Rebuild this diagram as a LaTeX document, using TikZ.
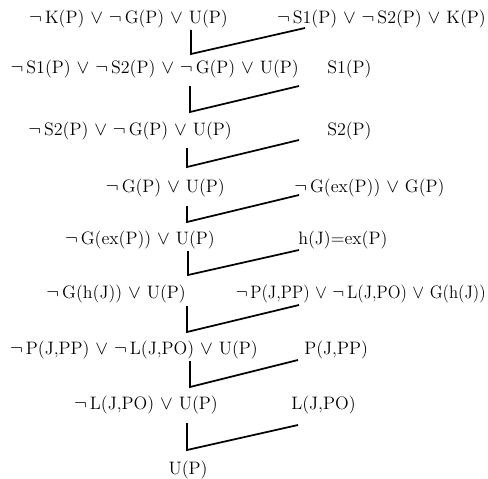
\documentclass[tikz,border=0pt]{standalone}
\usepackage{graphicx}
\newcommand\myneg{$\neg$\,}
\newcommand\myor{\ $\vee$\ }
\begin{document}
\begin{tikzpicture}[x=0.75pt,y=-0.75pt,
  clause/.style={inner sep=0pt,font=\fontsize{13.5}{16}\selectfont},
  lc/.style={clause,anchor=east},
  rc/.style={clause,anchor=west},
  link/.style={line width=1.3pt,line join=miter}]
\useasboundingbox (0,0) rectangle (488,478);
% left clauses
\node[lc] (l1) at (228,19) {\myneg K(P)\myor\myneg G(P)\myor U(P)};
\node[lc] (l2) at (299,69) {\myneg S1(P)\myor\myneg S2(P)\myor\myneg G(P)\myor U(P)};
\node[lc] (l3) at (232,131) {\myneg S2(P)\myor\myneg G(P)\myor U(P)};
\node[lc] (l4) at (225,188) {\myneg G(P)\myor U(P)};
\node[lc] (l5) at (215,240) {\myneg G(ex(P))\myor U(P)};
\node[lc] (l6) at (186,294) {\myneg G(h(J))\myor U(P)};
\node[lc] (l7) at (258,350) {\myneg P(J,PP)\myor\myneg L(J,PO)\myor U(P)};
\node[lc] (l8) at (218,405) {\myneg L(J,PO)\myor U(P)};
\node[clause] (l9) at (188,470) {U(P)};
% right clauses
\node[clause,anchor=east] (r1) at (486,19) {\myneg S1(P)\myor\myneg S2(P)\myor K(P)};
\node[rc] (r2) at (327,69) {S1(P)};
\node[rc] (r3) at (327,131) {S2(P)};
\node[rc] (r4) at (294,188) {\myneg G(ex(P))\myor G(P)};
\node[rc] (r5) at (298,240) {h(J)=ex(P)};
\node[clause,anchor=east] (r6) at (486,294) {\scalebox{0.93}[1]{\myneg P(J,PP)\myor\myneg L(J,PO)\myor G(h(J))}};
\node[rc] (r7) at (304,350) {P(J,PP)};
\node[rc] (r8) at (291,405) {L(J,PO)};
% connector points
\coordinate (t1) at (191,30);  \coordinate (c1) at (191,54);  \coordinate (e1) at (305,28);
\coordinate (t2) at (190,86);  \coordinate (c2) at (190,112); \coordinate (e2) at (299,86);
\coordinate (t3) at (187,148); \coordinate (c3) at (187,167); \coordinate (e3) at (299,140);
\coordinate (t4) at (187,206); \coordinate (c4) at (187,222); \coordinate (e4) at (299,195);
\coordinate (t5) at (188,251); \coordinate (c5) at (188,275); \coordinate (e5) at (299,250);
\coordinate (t6) at (187,306); \coordinate (c6) at (187,332); \coordinate (e6) at (299,305);
\coordinate (t7) at (190,361); \coordinate (c7) at (190,387); \coordinate (e7) at (298,360);
\coordinate (t8) at (187,423); \coordinate (c8) at (187,450); \coordinate (e8) at (298,425);
\foreach \i in {1,...,8} \draw[link] (t\i) -- (c\i) -- (e\i);
\end{tikzpicture}
\end{document}
